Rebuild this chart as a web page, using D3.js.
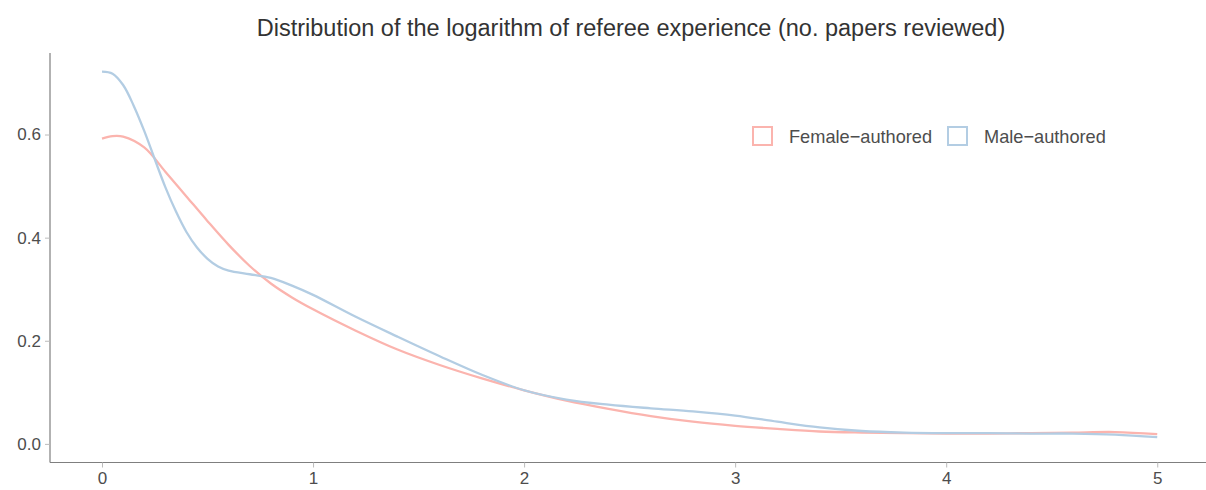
<!DOCTYPE html>
<html><head><meta charset="utf-8">
<script src="https://cdn.jsdelivr.net/npm/d3@7"></script>
<style>body{margin:0;background:#fff;} text{font-family:"Liberation Sans",Arial,sans-serif;}</style>
</head><body><svg id="chart" width="1206" height="490"></svg>
<script>
const title = "Distribution of the logarithm of referee experience (no. papers reviewed)";
const seriesNames = ["Female\u2212authored", "Male\u2212authored"];
const seriesColors = ["#FBB4AE", "#B3CDE3"];
const xTicks = [0, 1, 2, 3, 4, 5];
const yTicks = [0.0, 0.2, 0.4, 0.6];

const femaleX = [0, 0.05, 0.1, 0.2, 0.3, 0.4, 0.5, 0.6, 0.7, 0.8, 0.9, 1.0, 1.2, 1.4, 1.6, 1.8, 2.0, 2.2, 2.4, 2.6, 2.8, 3.0, 3.2, 3.4, 3.6, 3.8, 4.0, 4.2, 4.4, 4.6, 4.8, 5.0];
const femaleY = [0.592, 0.597, 0.596, 0.575, 0.528, 0.480, 0.432, 0.386, 0.345, 0.311, 0.284, 0.261, 0.220, 0.183, 0.153, 0.127, 0.104, 0.084, 0.068, 0.054, 0.043, 0.035, 0.029, 0.024, 0.022, 0.021, 0.020, 0.020, 0.021, 0.022, 0.023, 0.019];

const maleX = [0, 0.05, 0.1, 0.15, 0.2, 0.25, 0.3, 0.35, 0.4, 0.45, 0.5, 0.55, 0.6, 0.7, 0.8, 0.9, 1.0, 1.2, 1.4, 1.6, 1.8, 2.0, 2.2, 2.4, 2.6, 2.8, 3.0, 3.2, 3.4, 3.6, 3.8, 4.0, 4.2, 4.4, 4.6, 4.8, 5.0];
const maleY = [0.722, 0.718, 0.696, 0.656, 0.607, 0.552, 0.498, 0.451, 0.411, 0.381, 0.359, 0.344, 0.336, 0.329, 0.322, 0.307, 0.289, 0.247, 0.208, 0.170, 0.134, 0.104, 0.086, 0.076, 0.069, 0.063, 0.055, 0.043, 0.032, 0.025, 0.022, 0.021, 0.021, 0.020, 0.020, 0.018, 0.013];

const svg = d3.select("#chart");
const x = d3.scaleLinear().domain([-0.25, 5.25]).range([49.25, 1210]);
const y = d3.scaleLinear().domain([-0.0361, 0.7581]).range([462.5, 53]);

const axisCol = "#7f7f7f", textCol = "#4d4d4d";
const ff = "Liberation Sans, Arial, sans-serif";

// title
svg.append("text").attr("x", 631).attr("y", 36).attr("text-anchor", "middle")
  .attr("font-size", 23.5).attr("fill", "#333").text(title);

// y axis
const yAxis = svg.append("g").attr("transform", "translate(50,0)")
  .call(d3.axisLeft(y).tickValues(yTicks).tickFormat(d3.format(".1f")).tickSize(5).tickPadding(4));
yAxis.select(".domain").attr("stroke", axisCol).attr("stroke-width", 1.2).attr("d", `M0,${y.range()[1]}V${y.range()[0]}`);
yAxis.selectAll(".tick line").attr("stroke", "#bbb");
yAxis.selectAll(".tick text").attr("fill", textCol).attr("font-size", 17).attr("font-family", ff);

// x axis
const xAxis = svg.append("g").attr("transform", "translate(0,462.5)")
  .call(d3.axisBottom(x).tickValues(xTicks).tickFormat(d3.format("d")).tickSize(5).tickPadding(4));
xAxis.select(".domain").attr("stroke", axisCol).attr("stroke-width", 1.2).attr("d", `M50,0H1210`);
xAxis.selectAll(".tick line").attr("stroke", "#bbb");
xAxis.selectAll(".tick text").attr("fill", textCol).attr("font-size", 17).attr("font-family", ff);

// lines
const line = d3.line().x(d => x(d[0])).y(d => y(d[1])).curve(d3.curveCatmullRom.alpha(0.5));
const series = [d3.zip(femaleX, femaleY), d3.zip(maleX, maleY)];
series.forEach((s, i) => {
  svg.append("path").datum(s).attr("d", line).attr("fill", "none")
    .attr("stroke", seriesColors[i]).attr("stroke-width", 2.3).attr("stroke-linecap", "butt");
});

// legend
const legX = [752, 947];
seriesNames.forEach((n, i) => {
  svg.append("rect").attr("x", legX[i] + 1).attr("y", 127).attr("width", 19).attr("height", 18)
    .attr("fill", "none").attr("stroke", seriesColors[i]).attr("stroke-width", 2);
  svg.append("text").attr("x", legX[i] + 37).attr("y", 142.5).attr("font-size", 18.2)
    .attr("fill", textCol).text(n);
});
</script></body></html>
